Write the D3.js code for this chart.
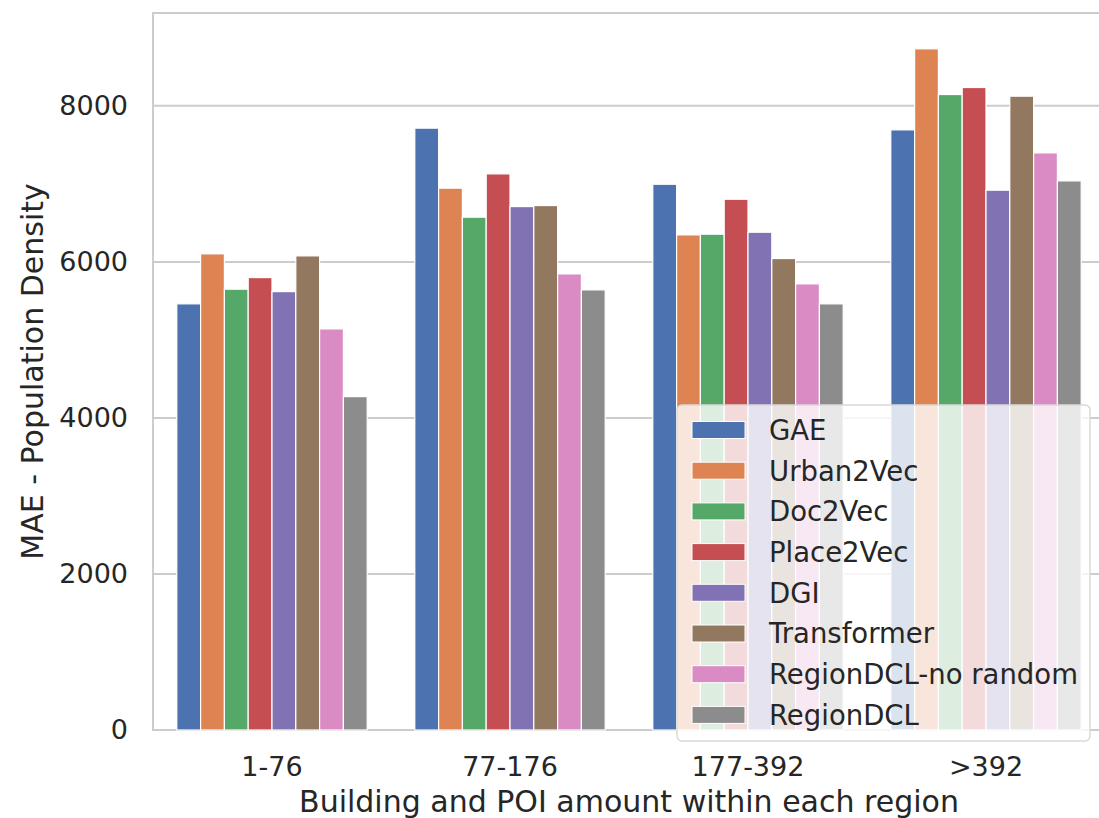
<!DOCTYPE html>
<html>
<head>
<meta charset="utf-8">
<script src="https://cdn.jsdelivr.net/npm/d3@7"></script>
<style>
  body { margin: 0; background: #fff; }
  svg text { font-family: "DejaVu Sans", sans-serif; fill: #262626; }
</style>
</head>
<body>
<script>
// chart data
const groups = ["1-76", "77-176", "177-392", ">392"];
const methods = ["GAE", "Urban2Vec", "Doc2Vec", "Place2Vec", "DGI", "Transformer", "RegionDCL-no random", "RegionDCL"];
const colors = ["#4c72b0", "#dd8452", "#55a868", "#c44e52", "#8172b3", "#937860", "#da8bc3", "#8c8c8c"];
const valGAE = [5462, 7714, 6995, 7692];
const valUrban2Vec = [6103, 6945, 6346, 8731];
const valDoc2Vec = [5650, 6573, 6355, 8145];
const valPlace2Vec = [5799, 7128, 6803, 8235];
const valDGI = [5619, 6709, 6380, 6919];
const valTransformer = [6077, 6722, 6043, 8124];
const valNoRandom = [5141, 5846, 5718, 7397];
const valRegionDCL = [4273, 5641, 5462, 7038];
const yTicks = [0, 2000, 4000, 6000, 8000];

const seriesValues = [valGAE, valUrban2Vec, valDoc2Vec, valPlace2Vec, valDGI, valTransformer, valNoRandom, valRegionDCL];

const width = 1099;
const height = 818;
const margin = { left: 153, top: 13, right: 1105, bottom: 730 };

const svg = d3.select("body").append("svg")
    .attr("width", width)
    .attr("height", height);

const x = d3.scaleBand().domain(groups).range([margin.left, margin.right]).paddingInner(0).paddingOuter(0);
const xInner = d3.scaleBand().domain(methods).range([0, x.bandwidth() * 0.8]);
const y = d3.scaleLinear().domain([0, 9190]).range([margin.bottom, margin.top]);

// grid lines
svg.append("g")
    .selectAll("line")
    .data(yTicks)
    .join("line")
    .attr("x1", margin.left)
    .attr("x2", margin.right)
    .attr("y1", d => y(d))
    .attr("y2", d => y(d))
    .attr("stroke", "#cccccc")
    .attr("stroke-width", 2);

// frame
svg.append("rect")
    .attr("x", margin.left)
    .attr("y", margin.top)
    .attr("width", margin.right - margin.left)
    .attr("height", margin.bottom - margin.top)
    .attr("fill", "none")
    .attr("stroke", "#cccccc")
    .attr("stroke-width", 2);

// bars
const flat = [];
seriesValues.forEach((vals, i) => {
    vals.forEach((v, j) => flat.push({ group: groups[j], method: methods[i], color: colors[i], value: v }));
});

svg.append("g")
    .selectAll("rect")
    .data(flat)
    .join("rect")
    .attr("x", d => x(d.group) + x.bandwidth() * 0.1 + xInner(d.method))
    .attr("y", d => y(d.value))
    .attr("width", xInner.bandwidth())
    .attr("height", d => y(0) - y(d.value))
    .attr("fill", d => d.color)
    .attr("stroke", "#ffffff")
    .attr("stroke-width", 1.2);

// y axis
const yAxis = svg.append("g")
    .attr("transform", `translate(${margin.left},0)`)
    .call(d3.axisLeft(y).tickValues(yTicks).tickSize(0).tickPadding(25).tickFormat(d3.format("d")));
yAxis.select(".domain").remove();
yAxis.selectAll("text").attr("font-size", 27).style("fill", "#262626");

// x axis
const xAxis = svg.append("g")
    .attr("transform", `translate(0,${margin.bottom})`)
    .call(d3.axisBottom(x).tickSize(0).tickPadding(27));
xAxis.select(".domain").remove();
xAxis.selectAll("text").attr("font-size", 27).style("fill", "#262626");

// axis titles
svg.append("text")
    .attr("x", (margin.left + margin.right) / 2)
    .attr("y", 812)
    .attr("text-anchor", "middle")
    .attr("font-size", 30)
    .text("Building and POI amount within each region");

svg.append("text")
    .attr("transform", `translate(43,${(margin.top + margin.bottom) / 2}) rotate(-90)`)
    .attr("text-anchor", "middle")
    .attr("font-size", 30)
    .text("MAE - Population Density");

// legend
const legend = svg.append("g");
legend.append("rect")
    .attr("x", 677)
    .attr("y", 405)
    .attr("width", 413)
    .attr("height", 336)
    .attr("rx", 5)
    .attr("fill", "#ffffff")
    .attr("fill-opacity", 0.8)
    .attr("stroke", "#d9d9d9")
    .attr("stroke-width", 1.5);

const rows = legend.selectAll("g.row")
    .data(methods)
    .join("g")
    .attr("class", "row")
    .attr("transform", (d, i) => `translate(0,${430 + i * 40.7})`);

rows.append("rect")
    .attr("x", 692)
    .attr("y", -8.5)
    .attr("width", 53)
    .attr("height", 17)
    .attr("fill", (d, i) => colors[i])
    .attr("stroke", "#ffffff")
    .attr("stroke-width", 1);

rows.append("text")
    .attr("x", 769)
    .attr("dy", "0.36em")
    .attr("font-size", 27.5)
    .text(d => d);
</script>
</body>
</html>
